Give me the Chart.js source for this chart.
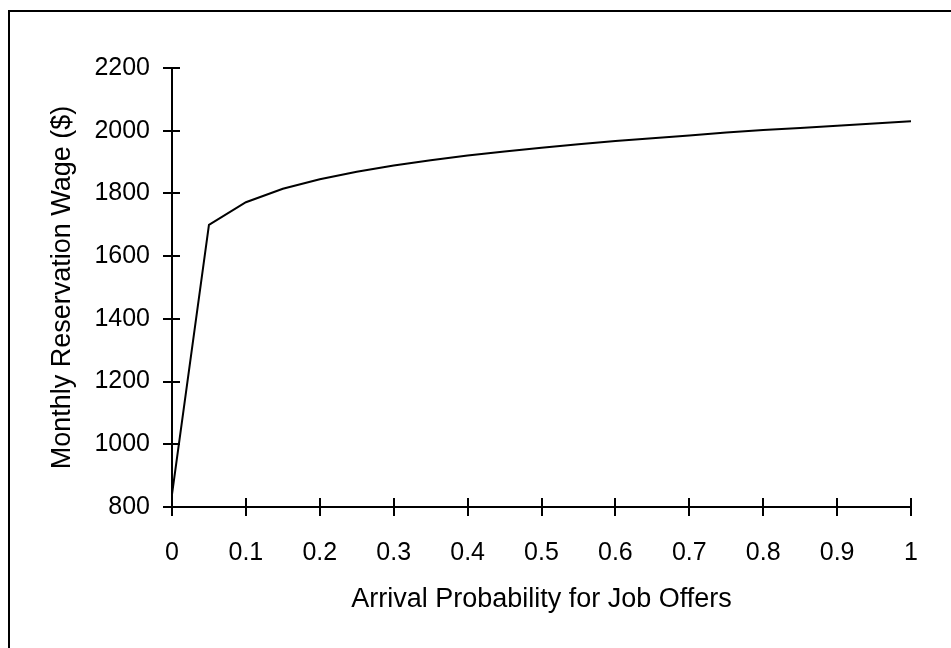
<!DOCTYPE html>
<html>
<head>
<meta charset="utf-8">
<script src="https://cdn.jsdelivr.net/npm/chart.js@4"></script>
<style>
    html, body { margin: 0; padding: 0; background: #fff; overflow: hidden; }
    #wrap { position: relative; width: 951px; height: 648px; }
    #frame { position: absolute; left: 8px; top: 10px; width: 960px; height: 660px; border-left: 2px solid #000; border-top: 2px solid #000; }
    canvas { position: absolute; left: 0; top: 0; }
</style>
</head>
<body>
<div id="wrap">
    <div id="frame"></div>
    <canvas id="wageChart" width="951" height="648"></canvas>
</div>
<script>
// arrival probability (x) and reservation wage (y)
const arrivalProb = [0, 0.05, 0.1, 0.15, 0.2, 0.25, 0.3, 0.35, 0.4, 0.45, 0.5,
    0.55, 0.6, 0.65, 0.7, 0.75, 0.8, 0.85, 0.9, 0.95, 1];
const reservationWage = [840, 1700, 1772, 1815, 1845, 1869, 1889, 1906, 1921, 1934, 1946,
    1957, 1967, 1976, 1985, 1994, 2002, 2009, 2016, 2023, 2030];
const xTicks = [0, 0.1, 0.2, 0.3, 0.4, 0.5, 0.6, 0.7, 0.8, 0.9, 1];
const yTicks = [800, 1000, 1200, 1400, 1600, 1800, 2000, 2200];

const TICK_FONT = { family: 'Liberation Sans, Arial, sans-serif', size: 25 };
const TITLE_FONT = { family: 'Liberation Sans, Arial, sans-serif', size: 27 };

// tick marks that cross the axis line
const crossTicks = {
    id: 'crossTicks',
    afterDraw(chart) {
        const { ctx, scales: { x, y } } = chart;
        ctx.save();
        ctx.strokeStyle = '#000';
        ctx.lineWidth = 2;
        ctx.beginPath();
        xTicks.forEach(v => {
            const px = Math.round(x.getPixelForValue(v));
            ctx.moveTo(px, y.bottom - 9);
            ctx.lineTo(px, y.bottom + 9);
        });
        yTicks.forEach(v => {
            const py = Math.round(y.getPixelForValue(v));
            ctx.moveTo(x.left - 9, py);
            ctx.lineTo(x.left + 8, py);
        });
        ctx.stroke();
        ctx.restore();
    }
};

new Chart(document.getElementById('wageChart'), {
    type: 'line',
    data: {
        datasets: [{
            data: arrivalProb.map((p, i) => ({ x: p, y: reservationWage[i] })),
            borderColor: '#000',
            borderWidth: 2,
            pointRadius: 0,
            tension: 0,
            fill: false
        }]
    },
    options: {
        responsive: false,
        animation: false,
        devicePixelRatio: 1,
        layout: { padding: { left: 0, right: 40, top: 68, bottom: 0 } },
        plugins: { legend: { display: false }, tooltip: { enabled: false } },
        scales: {
            x: {
                type: 'linear',
                min: 0,
                max: 1,
                afterBuildTicks: s => { s.ticks = xTicks.map(v => ({ value: v })); },
                afterFit: s => { s.height = 141; },
                grid: { display: false, drawTicks: false },
                border: { display: true, color: '#000', width: 2 },
                ticks: {
                    color: '#000',
                    font: TICK_FONT,
                    padding: 31,
                    maxRotation: 0,
                    autoSkip: false,
                    callback: v => String(v)
                },
                title: {
                    display: true,
                    text: 'Arrival Probability for Job Offers',
                    color: '#000',
                    font: TITLE_FONT,
                    padding: { top: 0, bottom: 32 }
                }
            },
            y: {
                type: 'linear',
                min: 800,
                max: 2200,
                afterBuildTicks: s => { s.ticks = yTicks.map(v => ({ value: v })); },
                afterFit: s => { s.width = 172; },
                grid: { display: false, drawTicks: false },
                border: { display: true, color: '#000', width: 2 },
                ticks: {
                    color: '#000',
                    font: TICK_FONT,
                    padding: 22,
                    autoSkip: false,
                    callback: v => String(v)
                },
                title: {
                    display: true,
                    text: 'Monthly Reservation Wage ($)',
                    color: '#000',
                    font: TITLE_FONT,
                    padding: { top: 46, bottom: 0 }
                }
            }
        }
    },
    plugins: [crossTicks]
});
</script>
</body>
</html>
